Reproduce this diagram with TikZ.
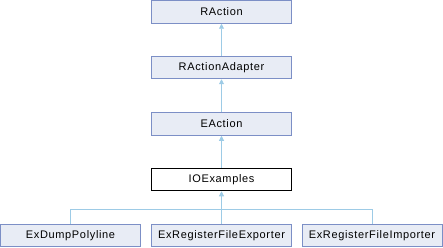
\documentclass[tikz,border=0pt]{standalone}
\usepackage{fontspec}
\setmainfont{Liberation Sans}[LetterSpace=6]
\usetikzlibrary{arrows.meta}
\definecolor{boxfill}{HTML}{E8ECF5}
\definecolor{boxline}{HTML}{7C8FC6}
\definecolor{edgecol}{HTML}{9DCBE6}
\begin{document}
\begin{tikzpicture}[x=1pt,y=-1pt,
  cls/.style={draw=boxline,fill=boxfill,line width=1pt,minimum width=140pt,minimum height=22.5pt,inner sep=0pt,font=\fontsize{11}{13}\selectfont},
  cur/.style={cls,draw=black,fill=white},
  inh/.style={draw=edgecol,line width=0.9pt,-{Triangle[width=5pt,length=5pt]}}]
\useasboundingbox (0,0) rectangle (443,248);
\node[cls] (ra) at (221.5,12) {RAction};
\node[cls] (raa) at (221.5,67.5) {RActionAdapter};
\node[cls] (ea) at (221.5,124) {EAction};
\node[cur] (io) at (221.5,179.5) {IOExamples};
\node[cls] (d) at (70.5,235.5) {ExDumpPolyline};
\node[cls] (e) at (221.5,235.5) {ExRegisterFileExporter};
\node[cls] (i) at (372,235.5) {ExRegisterFileImporter};
\coordinate (j) at (221.5,209);
\draw[inh] (raa) -- (ra);
\draw[inh] (ea) -- (raa);
\draw[inh] (io) -- (ea);
\draw[inh] (e) -- (io);
\draw[draw=edgecol,line width=0.9pt] (d.north) |- (j);
\draw[draw=edgecol,line width=0.9pt] (i.north) |- (j);
\end{tikzpicture}
\end{document}
